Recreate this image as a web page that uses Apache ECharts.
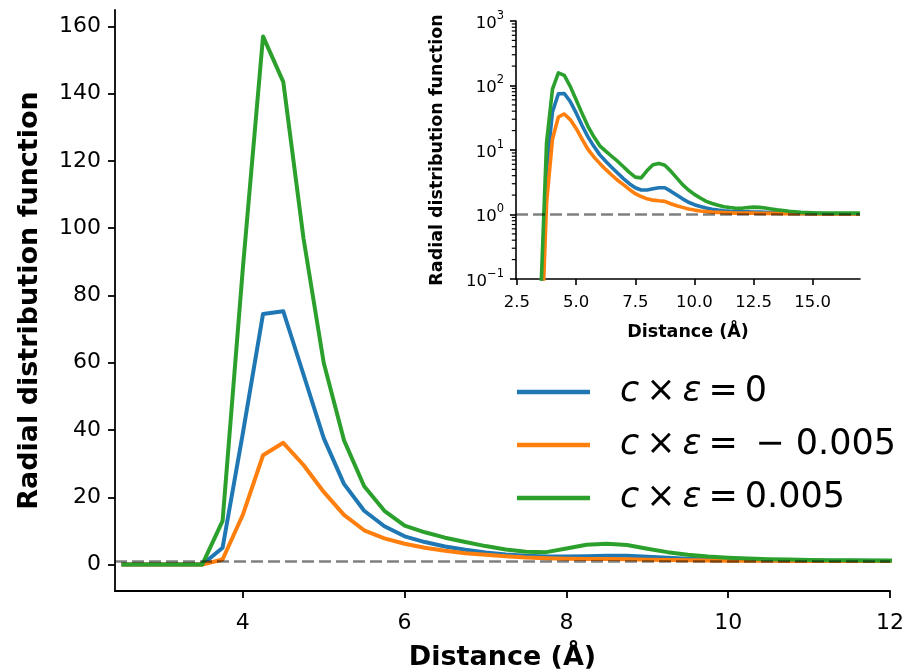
<!DOCTYPE html>
<html>
<head>
<meta charset="utf-8">
<script src="https://cdn.jsdelivr.net/npm/echarts@6/dist/echarts.min.js"></script>
<style>html,body{margin:0;padding:0;background:#fff;}#chart{width:908px;height:669px;}</style>
</head>
<body>
<div id="chart"></div>
<script>
// ---- data ----
const distance = [2.5, 2.75, 3.0, 3.25, 3.5, 3.75, 4.0, 4.25, 4.5, 4.75, 5.0, 5.25, 5.5, 5.75,
  6.0, 6.25, 6.5, 6.75, 7.0, 7.25, 7.5, 7.75, 8.0, 8.25, 8.5, 8.75, 9.0, 9.25, 9.5, 9.75,
  10.0, 10.25, 10.5, 10.75, 11.0, 11.25, 11.5, 11.75, 12.0, 12.25, 12.5, 12.75, 13.0, 13.25,
  13.5, 13.75, 14.0, 14.25, 14.5, 14.75, 15.0, 15.25, 15.5, 15.75, 16.0, 16.25, 16.5, 16.75, 17.0];
const rdfZero = [0, 0, 0, 0, 0.02, 5, 39, 74.5, 75.3, 56.5, 37.6, 24, 16, 11.4,
  8.4, 6.7, 5.4, 4.4, 3.6, 3.0, 2.6, 2.4, 2.4, 2.5, 2.6, 2.6, 2.3, 2.0, 1.75, 1.55,
  1.42, 1.33, 1.26, 1.21, 1.17, 1.14, 1.12, 1.11, 1.1, 1.1, 1.09, 1.09, 1.08, 1.07,
  1.06, 1.05, 1.05, 1.04, 1.04, 1.03, 1.03, 1.03, 1.03, 1.02, 1.02, 1.02, 1.02, 1.02, 1.02];
const rdfNeg = [0, 0, 0, 0, 0.005, 1.5, 14.8, 32.5, 36.2, 29.6, 21.6, 14.8, 10.2, 7.8,
  6.2, 5.0, 4.1, 3.4, 2.9, 2.45, 2.1, 1.9, 1.75, 1.67, 1.63, 1.6, 1.47, 1.37, 1.29, 1.22,
  1.17, 1.13, 1.11, 1.09, 1.08, 1.07, 1.06, 1.05, 1.05, 1.05, 1.05, 1.04, 1.04, 1.04,
  1.04, 1.03, 1.03, 1.03, 1.03, 1.03, 1.02, 1.02, 1.02, 1.02, 1.02, 1.02, 1.02, 1.02, 1.02];
const rdfPos = [0, 0, 0, 0, 0.05, 13, 88, 157, 143.5, 97, 60, 37, 23.3, 16,
  11.6, 9.6, 8.0, 6.7, 5.5, 4.5, 3.8, 3.7, 4.8, 5.9, 6.2, 5.8, 4.7, 3.7, 2.9, 2.4,
  2.05, 1.8, 1.6, 1.48, 1.39, 1.32, 1.28, 1.25, 1.25, 1.28, 1.3, 1.29, 1.26, 1.22,
  1.18, 1.15, 1.12, 1.1, 1.08, 1.07, 1.06, 1.05, 1.05, 1.05, 1.05, 1.05, 1.05, 1.05, 1.05];
const seriesNames = ['c0', 'cneg', 'cpos'];
const legendLabels = {
  c0: '{i|c}\u2009×\u2009{i|ε}\u2009=\u20090',
  cneg: '{i|c}\u2009×\u2009{i|ε}\u2009=\u2002\u2212 0.005',
  cpos: '{i|c}\u2009×\u2009{i|ε}\u2009=\u20090.005'
};
const colors = ['#1f77b4', '#ff7f0e', '#2ca02c'];
const mainXTicks = [4, 6, 8, 10, 12];
const mainYTicks = [0, 20, 40, 60, 80, 100, 120, 140, 160];
const insetXTicks = [2.5, 5.0, 7.5, 10.0, 12.5, 15.0];
const insetYTicks = [0.1, 1, 10, 100, 1000];
const insetYExponents = ['\u22121', '0', '1', '2', '3'];
const insetYMinor = [0.2, 0.3, 0.4, 0.5, 0.6, 0.7, 0.8, 0.9, 2, 3, 4, 5, 6, 7, 8, 9,
  20, 30, 40, 50, 60, 70, 80, 90, 200, 300, 400, 500, 600, 700, 800, 900];
const referenceLevel = 1;
const insetXMin = 2.458;

// ---- chart ----
const FONT = 'DejaVu Sans';
const allData = [rdfZero, rdfNeg, rdfPos];
const chart = echarts.init(document.getElementById('chart'), null, {renderer: 'canvas'});

const mainLine = {show: true, onZero: false, lineStyle: {color: '#000', width: 1.8}};
const mainTick = {show: true, inside: false, length: 7, lineStyle: {color: '#000', width: 1.8}};
const insetLine = {show: true, onZero: false, lineStyle: {color: '#000', width: 1.6}};
const INSET_GRID = {left: 516, right: 48, top: 21, bottom: 390};

const series = [];
allData.forEach((arr, k) => {
  series.push({
    name: seriesNames[k], type: 'line', xAxisIndex: 0, yAxisIndex: 0,
    data: distance.map((x, i) => [x, arr[i]]),
    symbol: 'none', smooth: false, clip: true,
    lineStyle: {color: colors[k], width: 4, join: 'round'},
    itemStyle: {color: colors[k]}, z: 2 + k
  });
});
allData.forEach((arr, k) => {
  series.push({
    name: seriesNames[k], type: 'line', xAxisIndex: 1, yAxisIndex: 1,
    data: distance.map((x, i) => [x, arr[i] > 0 ? arr[i] : null]),
    symbol: 'none', smooth: false, clip: true, connectNulls: false,
    lineStyle: {color: colors[k], width: 3.6, join: 'round'},
    itemStyle: {color: colors[k]}, z: 2 + k
  });
});
const dashed = {type: [12, 5], color: 'rgba(0,0,0,0.5)', width: 2.6};
series.push({
  name: 'ref-main', type: 'line', xAxisIndex: 0, yAxisIndex: 0, data: [], z: 10,
  markLine: {silent: true, symbol: 'none', label: {show: false}, lineStyle: dashed,
    data: [{yAxis: referenceLevel}]}
});
series.push({
  name: 'ref-inset', type: 'line', xAxisIndex: 1, yAxisIndex: 1, data: [], z: 10,
  markLine: {silent: true, symbol: 'none', label: {show: false}, lineStyle: dashed,
    data: [{yAxis: referenceLevel}]}
});

const option = {
  animation: false,
  backgroundColor: '#fff',
  textStyle: {fontFamily: FONT, color: '#000'},
  grid: [
    {left: 115, right: 18, top: 10, bottom: 78, containLabel: false, outerBoundsMode: 'none'},
    Object.assign({containLabel: false, outerBoundsMode: 'none'}, INSET_GRID)
  ],
  legend: {
    data: seriesNames, orient: 'vertical', left: 517, top: 372, padding: 0,
    icon: 'rect', itemWidth: 73, itemHeight: 4.5, itemGap: 13,
    formatter: name => legendLabels[name],
    textStyle: {fontFamily: FONT, fontSize: 35, lineHeight: 40, color: '#000', padding: [0, 0, 0, 25],
      rich: {i: {fontFamily: FONT, fontStyle: 'italic', fontSize: 35, lineHeight: 40, color: '#000'}}},
    selectedMode: false
  },
  xAxis: [
    {
      gridIndex: 0, type: 'value', min: 2.42, max: 12,
      axisLine: mainLine, splitLine: {show: false},
      axisTick: Object.assign({}, mainTick, {customValues: mainXTicks}),
      axisLabel: {customValues: mainXTicks, fontSize: 22, color: '#000', fontFamily: FONT, margin: 21},
      name: 'Distance (Å)', nameLocation: 'middle', nameGap: 53,
      nameTextStyle: {fontSize: 27, fontWeight: 'bold', fontFamily: FONT, color: '#000'}
    },
    {
      gridIndex: 1, type: 'value', min: insetXMin, max: 17,
      axisLine: insetLine, splitLine: {show: false},
      axisTick: {show: true, length: 6, lineStyle: {color: '#000', width: 1.6}, customValues: insetXTicks},
      axisLabel: {customValues: insetXTicks, fontSize: 16.5, color: '#000', fontFamily: FONT, margin: 15,
        formatter: v => v.toFixed(1)},
      name: 'Distance (Å)', nameLocation: 'middle', nameGap: 44,
      nameTextStyle: {fontSize: 17.5, fontWeight: 'bold', fontFamily: FONT, color: '#000'}
    }
  ],
  yAxis: [
    {
      gridIndex: 0, type: 'value', min: -7.85, max: 164.85,
      axisLine: mainLine, splitLine: {show: false},
      axisTick: Object.assign({}, mainTick, {customValues: mainYTicks}),
      axisLabel: {customValues: mainYTicks, fontSize: 22, color: '#000', fontFamily: FONT, margin: 14},
      name: 'Radial distribution function', nameLocation: 'middle', nameGap: 72, nameRotate: 90,
      nameTextStyle: {fontSize: 27, fontWeight: 'bold', fontFamily: FONT, color: '#000'}
    },
    {
      gridIndex: 1, type: 'log', logBase: 10, min: 0.1, max: 1000, position: 'left',
      axisLine: insetLine, splitLine: {show: false},
      axisTick: {show: true, length: 6, lineStyle: {color: '#000', width: 1.6}, customValues: insetYTicks},
      axisLabel: {customValues: insetYTicks, color: '#000', fontFamily: FONT, margin: 12,
        formatter: v => {
          const idx = insetYTicks.findIndex(t => Math.abs(Math.log10(t) - Math.log10(v)) < 1e-6);
          return '{b|10}{s|' + insetYExponents[idx] + '}';
        },
        rich: {
          b: {fontSize: 16.5, fontFamily: FONT, color: '#000', lineHeight: 22, verticalAlign: 'bottom'},
          s: {fontSize: 11.5, fontFamily: FONT, color: '#000', lineHeight: 22, verticalAlign: 'top'}
        }},
      name: 'Radial distribution function', nameLocation: 'middle', nameGap: 70, nameRotate: 90,
      nameTextStyle: {fontSize: 17.5, fontWeight: 'bold', fontFamily: FONT, color: '#000'}
    }
  ],
  series: series
};
chart.setOption(option);

// minor ticks of the inset log axis: positions from the axis' own log scale
function minorTickPixel(v) {
  let x = NaN, y = NaN;
  try { x = chart.convertToPixel({xAxisIndex: 1}, insetXMin); } catch (e) {}
  try { y = chart.convertToPixel({yAxisIndex: 1}, v); } catch (e) {}
  if (Array.isArray(x)) x = x[0];
  if (Array.isArray(y)) y = y[1];
  const H = 669 - INSET_GRID.top - INSET_GRID.bottom;
  if (!isFinite(x)) x = INSET_GRID.left;
  if (!isFinite(y)) {
    const lo = Math.log10(insetYTicks[0]), hi = Math.log10(insetYTicks[insetYTicks.length - 1]);
    y = INSET_GRID.top + (hi - Math.log10(v)) / (hi - lo) * H;
  }
  return [x, y];
}
const minorGraphics = insetYMinor.map(v => {
  const p = minorTickPixel(v);
  return {type: 'rect', silent: true, z: 100, zlevel: 0,
    shape: {x: p[0] - 4.2, y: p[1] - 0.6, width: 4.2, height: 1.2},
    style: {fill: '#000'}};
});
chart.setOption({graphic: minorGraphics});
</script>
</body>
</html>
